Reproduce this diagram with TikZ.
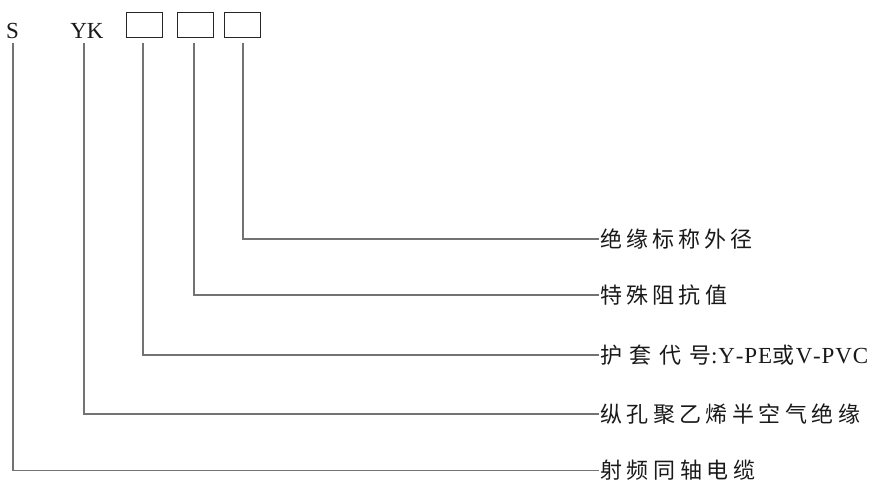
\documentclass[tikz,border=0pt]{standalone}
\usepackage{fontspec}
\setmainfont{Liberation Serif}
\newfontfamily\cjk{Noto Sans CJK SC}
\newcommand\gp{\hskip0pt plus 1fil\relax}
\begin{document}
\begin{tikzpicture}[x=1pt,y=-1pt,
  conn/.style={draw=black!55, line width=1.1pt},
  codebox/.style={draw=black!85, line width=1pt, minimum width=36pt, minimum height=25pt, inner sep=0pt},
  lab/.style={anchor=west, inner sep=0pt, text=black!90, font=\fontsize{22}{26}\selectfont},
  code/.style={anchor=base, inner sep=0pt, text=black!90, font=\fontsize{23}{27}\selectfont}]
\useasboundingbox (0,0) rectangle (873,480);
% top code
\node[code] (s) at (12.5,38) {S};
\node[code] (yk) at (87,38) {YK};
\node[codebox] (b1) at (144,24.5) {};
\node[codebox] (b2) at (195,24.5) {};
\node[codebox] (b3) at (242.5,24.5) {};
% labels
\node[lab] (l3) at (600,239) {\cjk\makebox[152pt][s]{绝 缘 标 称 外 径}};
\node[lab] (l2) at (600,295) {\cjk\makebox[127pt][s]{特 殊 阻 抗 值}};
\node[lab] (l1) at (600,355) {{\cjk\makebox[111pt][s]{护 套 代 号}}\hbox to 157pt{\fontsize{23}{27}\selectfont :\gp Y\gp -\gp P\gp E\gp{\cjk\fontsize{22}{26}\selectfont 或}\gp V\gp -\gp P\gp V\gp C}};
\node[lab] (lyk) at (600,414) {\cjk\makebox[260pt][s]{纵 孔 聚 乙 烯 半 空 气 绝 缘}};
\node[lab] (ls) at (600,470.5) {\cjk\makebox[155pt][s]{射 频 同 轴 电 缆}};
% connectors
\draw[conn] ([xshift=0.5pt,yshift=-5pt]b3.south) |- ([xshift=-1pt]l3.west);
\draw[conn] ([xshift=-1pt,yshift=-5pt]b2.south) |- ([xshift=-1pt]l2.west);
\draw[conn] ([xshift=-1pt,yshift=-5pt]b1.south) |- ([xshift=-1pt]l1.west);
\draw[conn] ([xshift=-3pt,yshift=-5pt]yk.south) |- ([xshift=-1pt]lyk.west);
\draw[conn] ([xshift=0.5pt,yshift=-5pt]s.south) |- ([xshift=-1pt]ls.west);
\end{tikzpicture}
\end{document}
